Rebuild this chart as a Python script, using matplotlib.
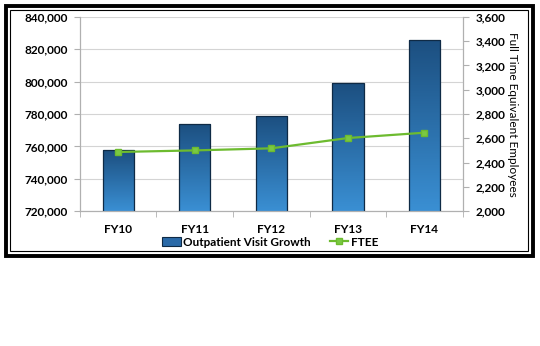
import numpy as np
import matplotlib.pyplot as plt
from matplotlib.patches import Rectangle, Patch
from matplotlib.lines import Line2D
from matplotlib.colors import LinearSegmentedColormap
from matplotlib.ticker import FuncFormatter

years = ['FY10', 'FY11', 'FY12', 'FY13', 'FY14']
visits = [757500, 774000, 779000, 799200, 826000]
ftee = [2487, 2500, 2517, 2602, 2646]

plt.rcParams['font.family'] = ['Lato', 'DejaVu Sans']
plt.rcParams['font.weight'] = 'bold'

fig = plt.figure(figsize=(5.4, 3.46), dpi=100)
ax = fig.add_axes([0.148, 0.390, 0.709, 0.561])
ax2 = ax.twinx()

x = np.arange(len(years))
w = 0.41
grad = LinearSegmentedColormap.from_list('bl', ['#3a8fd3', '#1c4f80'])
bars = ax.bar(x, visits, width=w, bottom=0, color='none', edgecolor='#0f2a45', lw=0.9, zorder=3)
ymin, ymax = 720000, 840000
# vertical gradient fill clipped to each bar
for b in bars:
    x0 = b.get_x()
    top = b.get_height()
    im = ax.imshow(np.linspace(0, 1, 100).reshape(-1, 1), cmap=grad, aspect='auto',
                   extent=[x0, x0 + w, ymin, top], origin='lower', zorder=2)
    im.set_clip_path(b)

ax.set_xlim(-0.5, 4.5)
ax.set_ylim(ymin, ymax)
ax.set_yticks(np.arange(720000, 840001, 20000))
ax.yaxis.set_major_formatter(FuncFormatter(lambda v, p: f'{int(v):,}'))
ax.grid(axis='y', color='#d4d4d4', lw=0.8, zorder=0)
ax.set_axisbelow(True)
ax.set_xticks(x)
ax.set_xticklabels(years)
ax.set_xticks(np.arange(-0.5, 4.6, 1), minor=True)
ax.tick_params(axis='x', which='major', length=0, pad=9, labelsize=8.5)
ax.tick_params(axis='x', which='minor', length=4, color='#b0b0b0')
ax.tick_params(axis='y', length=4, color='#b0b0b0', labelsize=8.5, pad=5)
ax.spines['top'].set_visible(False)
ax2.spines['top'].set_visible(False)
for a in (ax, ax2):
    for s in ['left', 'right', 'bottom']:
        a.spines[s].set_color('#b0b0b0')

ax2.plot(x, ftee, color='#6dbb2f', lw=1.6, marker='s', ms=5,
         markerfacecolor='#7ac943', markeredgecolor='#6dbb2f', zorder=5)
ax2.set_ylim(2000, 3600)
ax2.set_yticks(np.arange(2000, 3601, 200))
ax2.yaxis.set_major_formatter(FuncFormatter(lambda v, p: f'{int(v):,}'))
ax2.tick_params(axis='y', length=4, color='#b0b0b0', labelsize=8.5, pad=5)
ax2.set_ylabel('Full Time Equivalent Employees', rotation=-90, labelpad=9, fontsize=8.5)

handles = [Patch(facecolor='#2a6aa8', edgecolor='#0f2a45', lw=0.8),
           Line2D([], [], color='#6dbb2f', lw=1.6, marker='s', ms=4,
                  markerfacecolor='#7ac943', markeredgecolor='#6dbb2f')]
fig.legend(handles, ['Outpatient Visit Growth', 'FTEE'], loc='center',
           bbox_to_anchor=(0.5, 1 - 242 / 346), ncol=2, frameon=False, fontsize=8.5,
           handlelength=1.6, handletextpad=0.2, columnspacing=1.6)

# double frame around the chart
fig.patches.append(Rectangle((6 / 540, 1 - 256 / 346), 527 / 540, 250 / 346, transform=fig.transFigure,
                             fill=False, lw=2.8, edgecolor='black'))
fig.patches.append(Rectangle((10 / 540, 1 - 251 / 346), 518 / 540, 241 / 346, transform=fig.transFigure,
                             fill=False, lw=0.8, edgecolor='black'))

fig.savefig('out.png', dpi=100)
